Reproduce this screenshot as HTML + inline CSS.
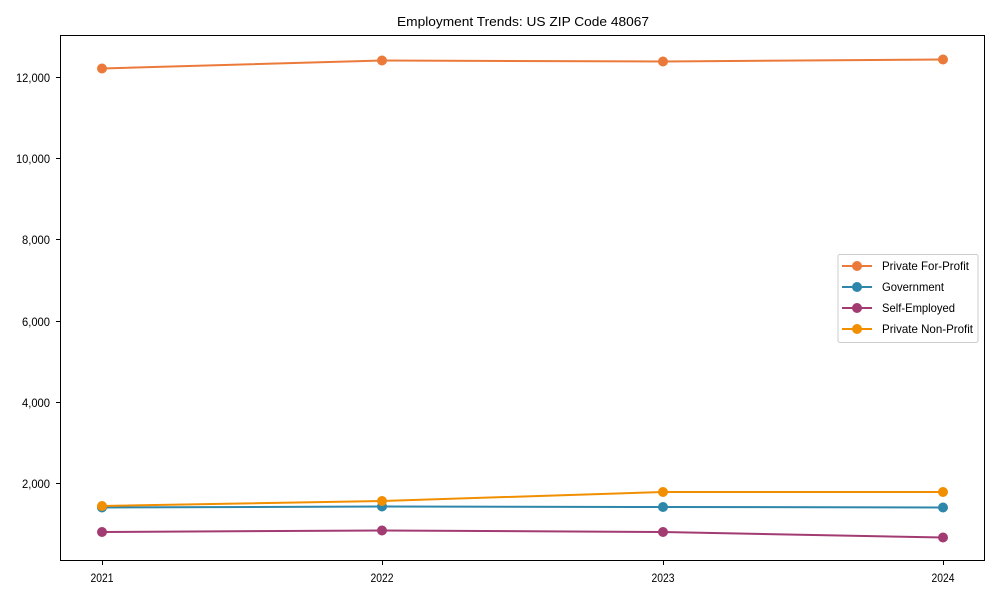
<!DOCTYPE html>
<html><head><style>body{margin:0;background:#fff}svg{display:block}text{font-family:"Liberation Sans",Arial,sans-serif;fill:#000}</style></head>
<body>
<svg width="1000" height="600" viewBox="0 0 1000 600">
<rect width="1000" height="600" fill="#fff"/>
<text x="523" y="26" font-size="13" text-anchor="middle" textLength="252" lengthAdjust="spacingAndGlyphs">Employment Trends: US ZIP Code 48067</text>
<g stroke="#000" stroke-width="1">
<line x1="60.5" y1="35" x2="60.5" y2="561"/>
<line x1="60" y1="560.5" x2="985" y2="560.5"/>
<line x1="984.5" y1="35" x2="984.5" y2="561"/>
<line x1="60" y1="35.5" x2="985" y2="35.5"/>
<line x1="56" y1="77.5" x2="60" y2="77.5"/>
<line x1="56" y1="158.5" x2="60" y2="158.5"/>
<line x1="56" y1="239.5" x2="60" y2="239.5"/>
<line x1="56" y1="321.5" x2="60" y2="321.5"/>
<line x1="56" y1="402.5" x2="60" y2="402.5"/>
<line x1="56" y1="483.5" x2="60" y2="483.5"/>
<line x1="102.5" y1="561" x2="102.5" y2="565"/>
<line x1="382.5" y1="561" x2="382.5" y2="565"/>
<line x1="663.5" y1="561" x2="663.5" y2="565"/>
<line x1="943.5" y1="561" x2="943.5" y2="565"/>
</g>
<g font-size="12" text-anchor="end" lengthAdjust="spacingAndGlyphs">
<text x="50" y="82" textLength="34" lengthAdjust="spacingAndGlyphs">12,000</text><text x="50" y="163" textLength="34" lengthAdjust="spacingAndGlyphs">10,000</text><text x="50" y="244" textLength="28" lengthAdjust="spacingAndGlyphs">8,000</text>
<text x="50" y="326" textLength="28" lengthAdjust="spacingAndGlyphs">6,000</text><text x="50" y="407" textLength="28" lengthAdjust="spacingAndGlyphs">4,000</text><text x="50" y="488" textLength="28" lengthAdjust="spacingAndGlyphs">2,000</text>
</g>
<g font-size="12" text-anchor="middle">
<text x="102" y="582" textLength="23" lengthAdjust="spacingAndGlyphs">2021</text><text x="382" y="582" textLength="23" lengthAdjust="spacingAndGlyphs">2022</text><text x="663" y="582" textLength="23" lengthAdjust="spacingAndGlyphs">2023</text><text x="943" y="582" textLength="23" lengthAdjust="spacingAndGlyphs">2024</text>
</g>
<g stroke-width="2" fill="none">
<polyline stroke="#2e86ab" points="102,507.5 382,506.5 663,507 943,507.5"/>
<polyline stroke="#a23b72" points="102,532 382,530.5 663,532 943,537.5"/>
<polyline stroke="#f18f01" points="102,506 382,501 663,492 943,492"/>
<polyline stroke="#eb7a3a" points="102,68.5 382,60.5 663,61.5 943,59.5"/>
</g>
<g fill="#2e86ab"><circle cx="102" cy="507.5" r="5"/><circle cx="382" cy="506.5" r="5"/><circle cx="663" cy="507" r="5"/><circle cx="943" cy="507.5" r="5"/></g>
<g fill="#a23b72"><circle cx="102" cy="532" r="5"/><circle cx="382" cy="530.5" r="5"/><circle cx="663" cy="532" r="5"/><circle cx="943" cy="537.5" r="5"/></g>
<g fill="#f18f01"><circle cx="102" cy="506" r="5"/><circle cx="382" cy="501" r="5"/><circle cx="663" cy="492" r="5"/><circle cx="943" cy="492" r="5"/></g>
<g fill="#eb7a3a"><circle cx="102" cy="68.5" r="5"/><circle cx="382" cy="60.5" r="5"/><circle cx="663" cy="61.5" r="5"/><circle cx="943" cy="59.5" r="5"/></g>
<rect x="838" y="254.5" width="140" height="88" rx="2" fill="#fff" stroke="#ccc"/>
<g stroke-width="2">
<line x1="842" y1="266" x2="872" y2="266" stroke="#eb7a3a"/><circle cx="857" cy="266" r="5" fill="#eb7a3a"/>
<line x1="842" y1="287" x2="872" y2="287" stroke="#2e86ab"/><circle cx="857" cy="287" r="5" fill="#2e86ab"/>
<line x1="842" y1="308" x2="872" y2="308" stroke="#a23b72"/><circle cx="857" cy="308" r="5" fill="#a23b72"/>
<line x1="842" y1="329" x2="872" y2="329" stroke="#f18f01"/><circle cx="857" cy="329" r="5" fill="#f18f01"/>
</g>
<g font-size="12">
<text x="882" y="270" textLength="87" lengthAdjust="spacingAndGlyphs">Private For-Profit</text><text x="882" y="291" textLength="62" lengthAdjust="spacingAndGlyphs">Government</text>
<text x="882" y="312" textLength="73" lengthAdjust="spacingAndGlyphs">Self-Employed</text><text x="882" y="333" textLength="91" lengthAdjust="spacingAndGlyphs">Private Non-Profit</text>
</g>
</svg>
</body></html>
